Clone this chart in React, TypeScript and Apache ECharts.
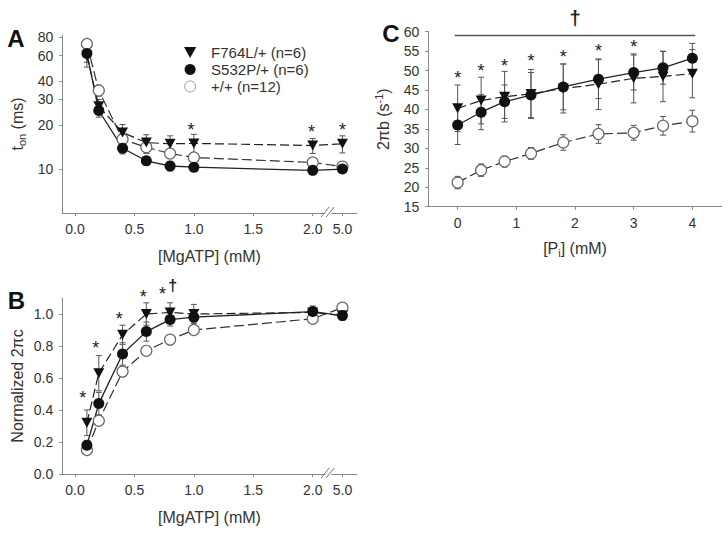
import React, { useEffect, useRef } from 'react';
import * as echarts from 'echarts';

const FONT = '"Liberation Sans", Arial, Helvetica, sans-serif';
const TXT = '#333';
const AXC = '#888';

// ---------- data ----------
const seriesNames = ['F764L/+ (n=6)', 'S532P/+ (n=6)', '+/+ (n=12)'];

// Panels A & B: [MgATP] (mM)
const mgAtp = [0.1, 0.2, 0.4, 0.6, 0.8, 1.0, 2.0, 5.0];
const mgAtpTicks = [0.0, 0.5, 1.0, 1.5, 2.0, 5.0];

// Panel A: t_on (ms)
const tonF764L = [60, 27, 17.8, 15.2, 14.9, 15.0, 14.5, 14.9];
const tonF764LErr = [10, 3, 2.4, 2.0, 2.0, 2.3, 1.7, 2.0];
const tonS532P = [62, 25.2, 13.9, 11.4, 10.5, 10.3, 9.8, 10.0];
const tonS532PErr = [8, 2.5, 1.2, 0.8, 0.8, 0.7, 0.6, 0.5];
const tonWT = [72, 34.6, 16, 14.1, 12.8, 12.0, 11.1, 10.4];
const tonWTErr = [5, 3, 1.5, 1.3, 1.0, 0.7, 0.5, 0.5];
const tonTicks = [10, 20, 30, 40, 60, 80];
const tonStarX = [0.975, 1.99, 5.0];
const tonStarY = [19.6, 19.1, 19.6];

// Panel B: normalized 2πc
const ncF764L = [0.32, 0.63, 0.87, 1.0, 1.01, 1.0, 1.01, 0.99];
const ncF764LErr = [0.08, 0.11, 0.06, 0.07, 0.06, 0.06, 0.04, 0.03];
const ncS532P = [0.18, 0.44, 0.75, 0.89, 0.965, 0.98, 1.015, 0.99];
const ncS532PErr = [0.03, 0.07, 0.07, 0.06, 0.04, 0.03, 0.02, 0.02];
const ncWT = [0.15, 0.333, 0.64, 0.77, 0.84, 0.9, 0.97, 1.04];
const ncWTErr = [0.02, 0.02, 0.02, 0.02, 0.02, 0.02, 0.02, 0.01];
const ncTicks = [0.0, 0.2, 0.4, 0.6, 0.8, 1.0];
const ncStarX = [0.065, 0.174, 0.372, 0.574, 0.737];
const ncStarY = [0.5, 0.81, 0.996, 1.13, 1.15];
const ncDaggerX = [0.822];
const ncDaggerY = [1.18];

// Panel C: 2πb vs [Pi]
const piConc = [0, 0.4, 0.8, 1.25, 1.8, 2.4, 3.0, 3.5, 4.0];
const piTicks = [0, 1, 2, 3, 4];
const bF764L = [40.3, 42.3, 43.3, 44.0, 45.4, 46.5, 48.0, 48.5, 49.2];
const bF764LErr = [6, 6, 6.5, 6.3, 6.3, 6.5, 6.3, 6.5, 6.2];
const bS532P = [36.0, 39.3, 42.0, 43.7, 45.8, 47.8, 49.5, 50.7, 53.2];
const bS532PErr = [5, 4.5, 4.3, 5.8, 5.9, 5, 4.5, 4.2, 3.8];
const bWT = [21.2, 24.4, 26.6, 28.7, 31.5, 33.7, 34.0, 35.8, 37.0];
const bWTErr = [1.6, 1.6, 1.4, 1.5, 2.0, 2.4, 1.9, 2.4, 2.8];
const bStarX = [0, 0.4, 0.8, 1.25, 1.8, 2.4, 3.0];
const bStarY = [49.1, 51.0, 52.3, 53.4, 54.6, 56.0, 57.0];
const bSigLineX = [-0.05, 4.05];
const bSigLineY = 59.0;
const bDaggerX = [2.0];
const bDaggerY = [63.6];

// broken x axis: values beyond 2 are compressed (5.0 -> 2.25)
const bx = (v: number) => (v > 2 ? 2 + (v - 2) / 12 : v);
const BREAK_X = 2.13;

// ---------- helpers ----------
type Kind = 'tri' | 'fill' | 'open';

function lineSeries(name: string, g: number, xs: number[], ys: number[], kind: Kind) {
  const base: any = {
    name,
    type: 'line',
    xAxisIndex: g,
    yAxisIndex: g,
    data: xs.map((x, i) => [x, ys[i]]),
    symbolSize: 10,
    showAllSymbol: true,
    z: 4,
    silent: true,
  };
  if (kind === 'tri') {
    return {
      ...base,
      symbol: 'path://M0,0 L10,0 L5,9 Z',
      symbolSize: [11, 10],
      itemStyle: { color: '#111' },
      lineStyle: { color: '#222', width: 1.2, type: [9, 4] },
    };
  }
  if (kind === 'fill') {
    return {
      ...base,
      symbol: 'circle',
      symbolSize: 11,
      itemStyle: { color: '#111' },
      lineStyle: { color: '#222', width: 1.3, type: 'solid' },
    };
  }
  return {
    ...base,
    symbol: 'circle',
    symbolSize: 11,
    itemStyle: { color: '#fff', borderColor: '#666', borderWidth: 1.2 },
    lineStyle: { color: '#333', width: 1.2, type: [10, 4] },
  };
}

function errSeries(g: number, xs: number[], ys: number[], errs: number[]) {
  return {
    type: 'custom',
    xAxisIndex: g,
    yAxisIndex: g,
    silent: true,
    z: 3,
    data: xs.map((x, i) => [x, ys[i], errs[i]]),
    encode: { x: 0, y: 1 },
    renderItem: (_p: any, api: any) => {
      const x = api.value(0);
      const y = api.value(1);
      const e = api.value(2);
      const t = api.coord([x, y + e]);
      const b = api.coord([x, y - e]);
      const w = 3;
      const st = { stroke: '#555', lineWidth: 1 };
      return {
        type: 'group',
        children: [
          { type: 'line', shape: { x1: t[0], y1: t[1], x2: b[0], y2: b[1] }, style: st },
          { type: 'line', shape: { x1: t[0] - w, y1: t[1], x2: t[0] + w, y2: t[1] }, style: st },
          { type: 'line', shape: { x1: b[0] - w, y1: b[1], x2: b[0] + w, y2: b[1] }, style: st },
        ],
      };
    },
  };
}

function textSeries(g: number, xs: number[], ys: number[], txt: string, size: number, dy: number, weight = 'normal') {
  return {
    type: 'custom',
    xAxisIndex: g,
    yAxisIndex: g,
    silent: true,
    clip: false,
    z: 6,
    data: xs.map((x, i) => [x, ys[i]]),
    encode: { x: 0, y: 1 },
    renderItem: (_p: any, api: any) => {
      const p = api.coord([api.value(0), api.value(1)]);
      return {
        type: 'text',
        x: p[0],
        y: p[1] + dy,
        style: {
          text: txt,
          fontSize: size,
          fontWeight: weight,
          fontFamily: FONT,
          fill: '#222',
          align: 'center',
          verticalAlign: 'middle',
        },
      };
    },
  };
}

function breakSeries(g: number, yBase: number) {
  return {
    type: 'custom',
    xAxisIndex: g,
    yAxisIndex: g,
    silent: true,
    clip: false,
    z: 7,
    data: [[BREAK_X, yBase]],
    encode: { x: 0, y: 1 },
    renderItem: (_p: any, api: any) => {
      const p = api.coord([api.value(0), api.value(1)]);
      const st = { stroke: '#777', lineWidth: 1 };
      return {
        type: 'group',
        children: [
          { type: 'rect', shape: { x: p[0] - 3, y: p[1] - 2, width: 6, height: 4 }, style: { fill: '#fff' } },
          { type: 'line', shape: { x1: p[0] - 7, y1: p[1] + 4, x2: p[0] + 1, y2: p[1] - 6 }, style: st },
          { type: 'line', shape: { x1: p[0] - 2, y1: p[1] + 4, x2: p[0] + 6, y2: p[1] - 6 }, style: st },
        ],
      };
    },
  };
}

const NAME_FS = 16;
const labelStyle = { fontFamily: FONT, fontSize: 14, color: TXT };
const nameStyle: any = {
  fontFamily: FONT,
  fontSize: NAME_FS,
  color: TXT,
  rich: {
    a: { fontFamily: FONT, fontSize: NAME_FS, color: TXT, lineHeight: 20 },
    s: { fontFamily: FONT, fontSize: 11, color: TXT, lineHeight: 11, verticalAlign: 'bottom', padding: [8, 0, 0, 0] },
    p: { fontFamily: FONT, fontSize: 11, color: TXT, lineHeight: 11, verticalAlign: 'top', padding: [0, 0, 8, 0] },
  },
};
const axisLine = { show: true, onZero: false, lineStyle: { color: AXC, width: 1 } };

function xAxisMg(g: number) {
  return {
    type: 'value',
    gridIndex: g,
    min: -0.107,
    max: 2.37,
    name: '[MgATP] (mM)',
    nameLocation: 'middle',
    nameGap: g === 0 ? 35 : 35,
    nameTextStyle: nameStyle,
    axisLine,
    axisTick: { show: true, length: 3, lineStyle: { color: AXC }, customValues: mgAtpTicks.map(bx) },
    axisLabel: {
      ...labelStyle,
      margin: 9,
      customValues: mgAtpTicks.map(bx),
      formatter: (v: number) => (v > 2.1 ? '5.0' : v.toFixed(1)),
    },
    splitLine: { show: false },
  };
}

export default function App() {
  const ref = useRef<HTMLDivElement>(null);

  useEffect(() => {
    document.body.style.margin = '0';
    if (!ref.current) return;
    const chart = echarts.init(ref.current, undefined, { renderer: 'svg' });
    const mgX = mgAtp.map(bx);
    const letter = (t: string, x: number, y: number) => ({
      type: 'text',
      x,
      y,
      style: { text: t, font: `bold 24px ${FONT}`, fill: '#111', align: 'center', verticalAlign: 'middle' },
    });

    const option: any = {
      animation: false,
      backgroundColor: '#fff',
      grid: [
        { left: 62.3, top: 35, width: 294.4, height: 178 },
        { left: 62.3, top: 298, width: 294.4, height: 176 },
        { left: 428.3, top: 31.7, width: 293.4, height: 175 },
      ],
      legend: {
        left: 179,
        top: 40,
        orient: 'vertical',
        itemWidth: 32,
        itemHeight: 11,
        itemGap: 2,
        selectedMode: false,
        textStyle: { fontFamily: FONT, fontSize: 15, color: TXT },
        data: [
          { name: seriesNames[0], icon: 'path://M0,0 L10,0 L5,9 Z' },
          { name: seriesNames[1], icon: 'circle' },
          { name: seriesNames[2], icon: 'circle', itemStyle: { borderColor: '#999', borderWidth: 1 } },
        ],
      },
      xAxis: [
        xAxisMg(0),
        xAxisMg(1),
        {
          type: 'value',
          gridIndex: 2,
          min: -0.5,
          max: 4.5,
          name: '{a|[P}{s|i}{a|] (mM)}',
          nameLocation: 'middle',
          nameGap: 32,
          nameTextStyle: nameStyle,
          axisLine,
          axisTick: { show: true, length: 3, lineStyle: { color: AXC }, customValues: piTicks },
          axisLabel: { ...labelStyle, margin: 9, customValues: piTicks, formatter: (v: number) => String(v) },
          splitLine: { show: false },
        },
      ],
      yAxis: [
        {
          type: 'log',
          logBase: 10,
          gridIndex: 0,
          min: 5,
          max: 83,
          name: '{a|t}{s|on}{a| (ms)}',
          nameLocation: 'middle',
          nameGap: 35,
          nameTextStyle: nameStyle,
          axisLine,
          axisTick: { show: true, length: 3, lineStyle: { color: AXC }, customValues: tonTicks },
          axisLabel: { ...labelStyle, margin: 9, customValues: tonTicks, formatter: (v: number) => String(Math.round(v)) },
          minorTick: { show: false },
          splitLine: { show: false },
        },
        {
          type: 'value',
          gridIndex: 1,
          min: 0,
          max: 1.1,
          name: '{a|Normalized 2πc}',
          nameLocation: 'middle',
          nameGap: 35,
          nameTextStyle: nameStyle,
          axisLine,
          axisTick: { show: true, length: 3, lineStyle: { color: AXC }, customValues: ncTicks },
          axisLabel: { ...labelStyle, margin: 9, customValues: ncTicks, formatter: (v: number) => v.toFixed(1) },
          splitLine: { show: false },
        },
        {
          type: 'value',
          gridIndex: 2,
          min: 15,
          max: 60,
          interval: 5,
          name: '{a|2πb (s}{p|-1}{a|)}',
          nameLocation: 'middle',
          nameGap: 35,
          nameTextStyle: nameStyle,
          axisLine,
          axisTick: { show: true, length: 3, lineStyle: { color: AXC } },
          axisLabel: { ...labelStyle, margin: 9 },
          splitLine: { show: false },
        },
      ],
      graphic: [letter('A', 16, 38), letter('B', 16.5, 300), letter('C', 391, 33)],
      series: [
        // Panel A
        errSeries(0, mgX, tonWT, tonWTErr),
        errSeries(0, mgX, tonS532P, tonS532PErr),
        errSeries(0, mgX, tonF764L, tonF764LErr),
        lineSeries(seriesNames[2], 0, mgX, tonWT, 'open'),
        lineSeries(seriesNames[1], 0, mgX, tonS532P, 'fill'),
        lineSeries(seriesNames[0], 0, mgX, tonF764L, 'tri'),
        textSeries(0, tonStarX.map(bx), tonStarY, '*', 18, 4),
        breakSeries(0, 5),
        // Panel B
        errSeries(1, mgX, ncWT, ncWTErr),
        errSeries(1, mgX, ncS532P, ncS532PErr),
        errSeries(1, mgX, ncF764L, ncF764LErr),
        lineSeries(seriesNames[2], 1, mgX, ncWT, 'open'),
        lineSeries(seriesNames[1], 1, mgX, ncS532P, 'fill'),
        lineSeries(seriesNames[0], 1, mgX, ncF764L, 'tri'),
        textSeries(1, ncStarX, ncStarY, '*', 18, 4),
        textSeries(1, ncDaggerX, ncDaggerY, '†', 16, 0, 'bold'),
        breakSeries(1, 0),
        // Panel C
        {
          type: 'line',
          xAxisIndex: 2,
          yAxisIndex: 2,
          silent: true,
          symbol: 'none',
          data: bSigLineX.map((x) => [x, bSigLineY]),
          lineStyle: { color: '#555', width: 1.5 },
          z: 2,
        },
        errSeries(2, piConc, bWT, bWTErr),
        errSeries(2, piConc, bS532P, bS532PErr),
        errSeries(2, piConc, bF764L, bF764LErr),
        lineSeries(seriesNames[2], 2, piConc, bWT, 'open'),
        lineSeries(seriesNames[1], 2, piConc, bS532P, 'fill'),
        lineSeries(seriesNames[0], 2, piConc, bF764L, 'tri'),
        textSeries(2, bStarX, bStarY, '*', 18, 4),
        textSeries(2, bDaggerX, bDaggerY, '†', 20, 0, 'bold'),
      ],
    };

    chart.setOption(option);
    return () => chart.dispose();
  }, []);

  return <div ref={ref} style={{ width: 728, height: 535 }} />;
}
